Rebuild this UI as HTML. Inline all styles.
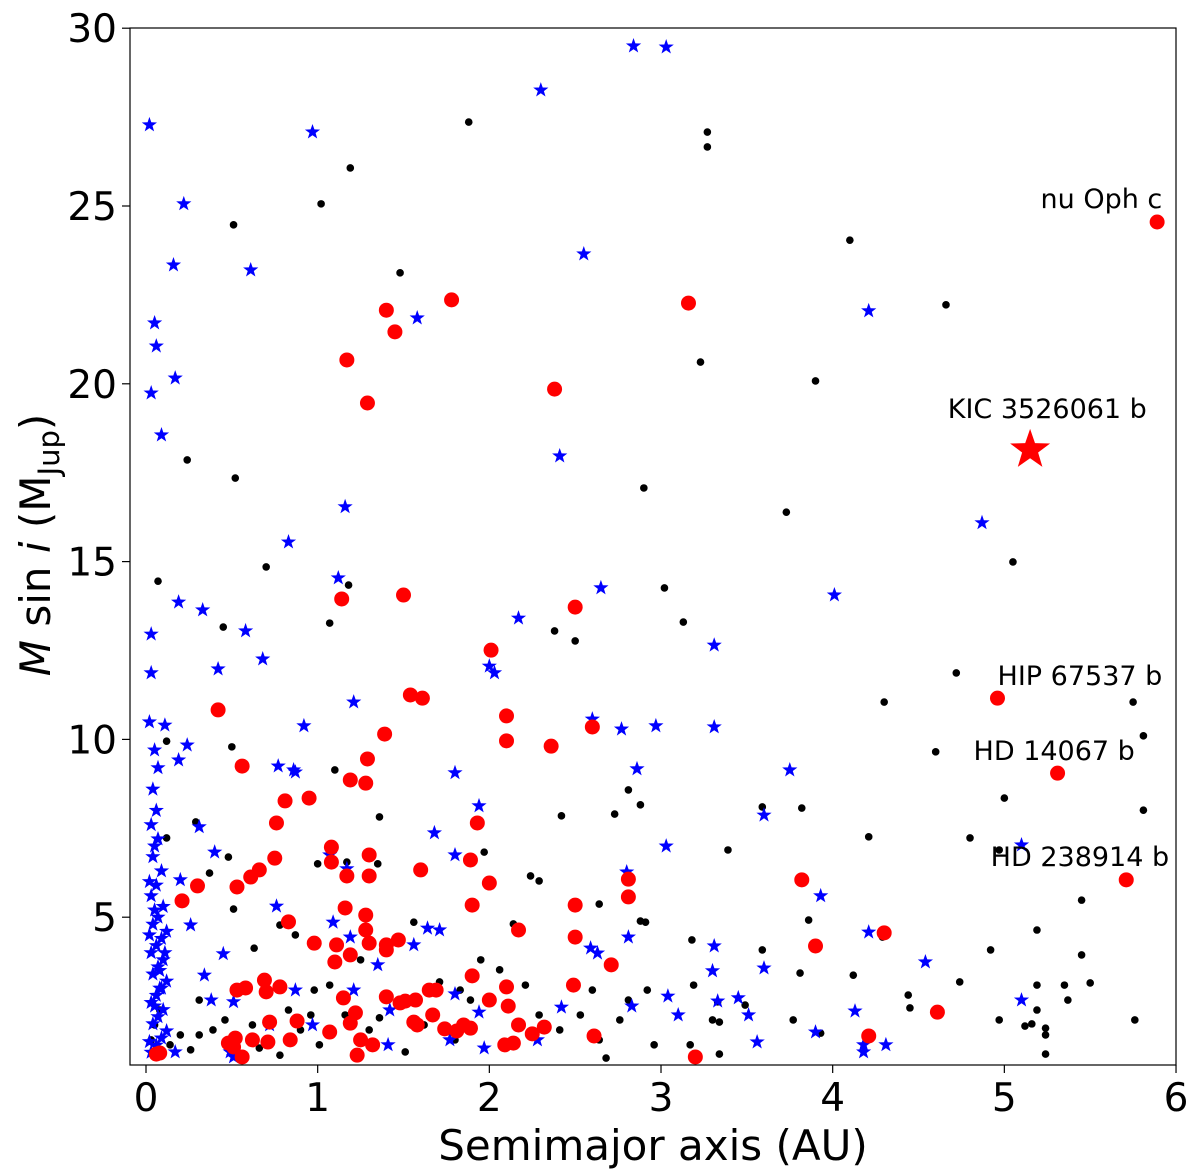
<!DOCTYPE html>
<html><head><meta charset="utf-8">
<style>
html,body{margin:0;padding:0;background:#fff;}
svg{display:block;font-family:"DejaVu Sans","Liberation Sans",sans-serif;}
</style></head>
<body>
<svg id="chart" width="1200" height="1175" viewBox="0 0 1200 1175" xmlns="http://www.w3.org/2000/svg">
<g id="marks"></g>
<g id="axes"></g>
</svg>
<script>
// ---- data ----
const blackX=[1.88,3.27,3.27,1.19,1.02,0.51,1.48,4.10,4.66,3.23,3.90,0.24,0.52,2.90,3.73,5.05,0.70,0.07,1.18,3.02,0.45,1.07,3.13,2.38,2.50,4.30,4.72,5.75,5.81,4.60,0.50,0.12,1.10,2.81,2.88,5.00,3.59,3.82,5.81,4.80,4.21,4.97,2.42,2.73,1.36,0.29,0.12,3.39,1.97,0.48,1.00,1.35,0.37,1.17,2.24,2.29,2.88,2.91,2.64,0.51,1.56,2.14,5.45,5.19,4.29,3.18,3.86,3.59,4.92,5.45,3.81,4.12,4.74,5.50,5.19,5.35,3.19,2.92,2.60,5.37,4.44,3.33,4.45,5.19,3.49,4.97,5.16,5.12,5.24,5.76,5.24,3.77,3.93,3.30,3.34,3.17,3.34,5.24,2.96,2.68,0.31,0.46,0.39,0.62,0.83,0.96,0.90,1.01,1.07,1.16,1.30,1.36,1.51,1.62,1.71,1.80,1.89,1.95,2.06,2.21,2.29,2.41,2.53,2.64,2.76,2.81,0.20,0.26,0.14,0.05,0.03,0.08,0.31,0.66,0.78,0.98,1.25,0.87,0.78,0.63,1.83];
const blackY=[27.36,27.08,26.66,26.07,25.06,24.47,23.12,24.04,22.22,20.61,20.08,17.86,17.35,17.07,16.39,14.99,14.85,14.45,14.34,14.26,13.16,13.27,13.30,13.05,12.77,11.05,11.87,11.05,10.10,9.65,9.79,9.95,9.14,8.58,8.16,8.35,8.10,8.07,8.01,7.23,7.26,6.89,7.85,7.90,7.82,7.68,7.23,6.89,6.83,6.69,6.50,6.50,6.24,6.55,6.16,6.02,4.89,4.86,5.37,5.23,4.86,4.81,5.48,4.64,4.44,4.36,4.92,4.08,4.08,3.94,3.43,3.37,3.18,3.15,3.09,3.09,3.09,2.95,2.95,2.67,2.81,2.62,2.45,2.39,2.53,2.11,2.00,1.94,1.88,2.11,1.69,2.11,1.74,2.11,2.05,1.41,1.15,1.15,1.41,1.04,2.67,2.11,1.83,1.97,2.39,2.25,1.83,1.41,3.09,2.25,1.83,2.17,1.21,1.97,3.18,1.55,2.67,3.80,3.52,3.09,2.25,1.83,2.25,1.55,2.11,2.67,1.69,1.27,1.41,1.97,1.55,2.39,1.69,1.32,1.12,2.95,3.80,4.50,4.78,4.13,2.95];
const blueX=[2.84,3.03,2.30,0.02,0.97,0.22,0.16,0.61,2.55,1.58,4.21,0.05,0.06,0.03,0.17,0.09,2.41,4.87,1.16,0.83,1.12,4.01,2.65,0.19,0.33,0.58,2.17,0.03,3.31,0.68,0.03,0.42,2.00,2.03,1.21,0.92,2.97,3.31,2.77,2.60,2.86,3.75,0.77,0.86,0.87,1.80,1.94,0.24,0.19,0.11,0.02,3.60,1.68,3.03,5.10,0.31,0.40,1.07,1.80,1.17,2.80,0.20,3.93,0.76,0.26,1.09,1.64,1.71,2.81,4.21,1.56,2.59,2.63,3.31,0.45,1.19,4.54,1.35,0.34,3.60,3.30,1.21,1.80,0.38,0.51,3.33,3.04,2.83,3.45,5.10,2.42,4.13,3.51,3.10,1.94,0.87,1.42,0.72,0.97,3.56,3.90,4.31,4.18,4.18,1.97,1.41,1.77,2.28,0.49,0.51,0.17,
0.03,0.06,0.09,0.12,0.04,0.07,0.10,0.03,0.06,0.09,0.12,0.04,0.07,0.10,0.03,0.06,0.09,0.12,0.04,0.07,0.10,0.03,0.06,0.09,0.04,0.07,0.03,0.06,0.04,0.07,0.05,0.02,0.05,0.08,0.02,0.05,0.08,0.11,0.02,0.05];
const blueY=[29.50,29.47,28.26,27.28,27.08,25.06,23.34,23.20,23.65,21.85,22.05,21.71,21.06,19.74,20.16,18.56,17.97,16.09,16.54,15.55,14.54,14.06,14.26,13.86,13.64,13.05,13.41,12.96,12.65,12.26,11.87,11.98,12.06,11.87,11.05,10.38,10.38,10.35,10.29,10.57,9.17,9.14,9.25,9.14,9.08,9.06,8.13,9.84,9.42,10.40,10.49,7.87,7.37,7.00,7.03,7.54,6.83,6.75,6.75,6.36,6.27,6.05,5.60,5.31,4.78,4.86,4.69,4.64,4.44,4.58,4.22,4.13,3.99,4.19,3.97,4.44,3.74,3.66,3.37,3.57,3.49,2.95,2.84,2.67,2.62,2.64,2.78,2.50,2.73,2.67,2.47,2.36,2.25,2.25,2.33,2.95,2.39,1.97,1.97,1.49,1.77,1.41,1.21,1.41,1.32,1.41,1.55,1.55,1.21,1.07,1.21,
1.2,1.4,1.6,1.8,2.0,2.2,2.4,2.6,2.8,3.0,3.2,3.4,3.6,3.8,4.0,4.2,4.4,4.6,4.8,5.0,5.3,5.6,5.9,6.3,6.7,7.2,7.6,8.0,8.6,9.2,9.7,1.5,2.5,3.5,4.5,5.2,3.0,4.0,6.0,7.0];
const redX=[5.89,4.96,5.31,5.71,4.61,4.30,4.21,1.40,1.45,1.78,3.16,1.17,1.29,2.38,1.14,1.50,2.50,2.01,0.42,1.54,1.61,2.10,2.60,1.39,2.10,2.36,1.29,0.56,0.95,0.81,1.19,1.28,1.93,0.76,1.08,0.75,1.08,1.30,0.66,0.61,1.60,1.89,2.00,1.17,1.30,0.30,0.53,2.81,2.81,3.82,0.21,1.16,1.90,2.50,0.83,1.28,1.28,2.17,2.50,1.47,0.98,1.40,1.11,3.90,1.30,1.10,1.19,2.71,1.40,1.90,0.69,2.49,0.78,0.58,0.70,0.53,1.65,1.69,1.57,1.48,1.51,2.00,2.10,2.11,1.15,1.40,1.22,1.67,1.56,1.58,1.85,1.89,1.74,1.81,2.17,2.32,2.25,2.61,1.19,1.07,0.72,0.88,0.52,0.48,0.62,0.56,0.71,0.84,1.25,1.32,1.23,2.14,0.08,0.06,3.20,2.09,0.51];
const redY=[24.55,11.16,9.05,6.05,2.33,4.56,1.66,22.07,21.46,22.36,22.27,20.67,19.46,19.85,13.95,14.06,13.72,12.51,10.83,11.25,11.16,10.66,10.35,10.15,9.96,9.81,9.45,9.25,8.35,8.27,8.86,8.77,7.65,7.65,6.97,6.66,6.55,6.75,6.33,6.13,6.33,6.61,5.96,6.16,6.16,5.88,5.85,6.07,5.57,6.05,5.46,5.26,5.34,5.34,4.87,5.06,4.64,4.64,4.44,4.36,4.27,4.22,4.22,4.19,4.27,3.74,3.94,3.66,4.08,3.35,3.23,3.09,3.04,3.01,2.90,2.95,2.95,2.95,2.67,2.59,2.64,2.67,3.04,2.50,2.73,2.76,2.31,2.25,2.05,1.97,1.97,1.88,1.86,1.80,1.97,1.91,1.72,1.66,2.02,1.77,2.05,2.08,1.60,1.46,1.55,1.07,1.49,1.55,1.55,1.41,1.12,1.46,1.18,1.15,1.07,1.41,1.35];
const kicX=[5.15];
const kicY=[18.14];
const xTicks=[0,1,2,3,4,5,6];
const yTicks=[5,10,15,20,25,30];
const labels=[["nu Oph c",5.92,24.94],["KIC 3526061 b",5.83,19.04],["HIP 67537 b",5.92,11.53],["HD 14067 b",5.76,9.42],["HD 238914 b",5.96,6.44]];

// ---- axes ----
const L=130,R=1176,T=28,B=1065;
const sx=v=>146+v*171.67;
const sy=v=>1095-v*35.56;
const NS="http://www.w3.org/2000/svg";
function mk(tag,attrs,parent){const e=document.createElementNS(NS,tag);for(const k in attrs)e.setAttribute(k,attrs[k]);parent.appendChild(e);return e;}
const marks=document.getElementById('marks');
const axes=document.getElementById('axes');

function star(cx,cy,r){let p=[];for(let i=0;i<10;i++){const rr=i%2?r*0.4:r;const a=-Math.PI/2+i*Math.PI/5;p.push((cx+rr*Math.cos(a)).toFixed(1)+","+(cy+rr*Math.sin(a)).toFixed(1));}return p.join(" ");}

blackX.forEach((x,i)=>{
  const c=mk('circle',{cx:sx(x),cy:sy(blackY[i]),r:3.8,fill:'#000'},marks);
  
  
});
blueX.forEach((x,i)=>{
  const s=mk('polygon',{points:star(sx(x),sy(blueY[i]),8),fill:'#0000ff'},marks);
  
  
});
redX.forEach((x,i)=>{
  const c=mk('circle',{cx:sx(x),cy:sy(redY[i]),r:7.5,fill:'#ff0000'},marks);
  
  
});
kicX.forEach((x,i)=>{
  const s=mk('polygon',{points:star(sx(x),sy(kicY[i]),21),fill:'#ff0000'},marks);
  
  
});
labels.forEach(l=>{
  const t=mk('text',{x:sx(l[1]),y:sy(l[2]),'font-size':27,'text-anchor':'end',fill:'#000'},marks);
  t.textContent=l[0];
  
  
});

const frame=mk('rect',{x:L,y:T,width:R-L,height:B-T,fill:'none',stroke:'#000','stroke-width':1.2},axes);


xTicks.forEach(v=>{
  mk('line',{x1:sx(v),x2:sx(v),y1:B,y2:B+8,stroke:'#000','stroke-width':1.2},axes);
  const t=mk('text',{x:sx(v),y:B+46,'font-size':39,'text-anchor':'middle'},axes);
  t.textContent=v;
  
  
});
yTicks.forEach(v=>{
  mk('line',{x1:L-8,x2:L,y1:sy(v),y2:sy(v),stroke:'#000','stroke-width':1.2},axes);
  const t=mk('text',{x:L-13,y:sy(v)+14,'font-size':39,'text-anchor':'end'},axes);
  t.textContent=v;
  
  
});
</script>
<svg style="position:absolute;left:0;top:0" width="1200" height="1175">
<text x="653" y="1160" font-size="42" text-anchor="middle" font-family="DejaVu Sans, sans-serif">Semimajor axis (AU)</text>
<text transform="translate(50,545) rotate(-90)" font-size="42" text-anchor="middle" font-family="DejaVu Sans, sans-serif"><tspan font-style="italic">M</tspan> sin <tspan font-style="italic">i</tspan> (M<tspan font-size="29" dy="9">Jup</tspan><tspan dy="-9">)</tspan></text>
</svg>
</body></html>
